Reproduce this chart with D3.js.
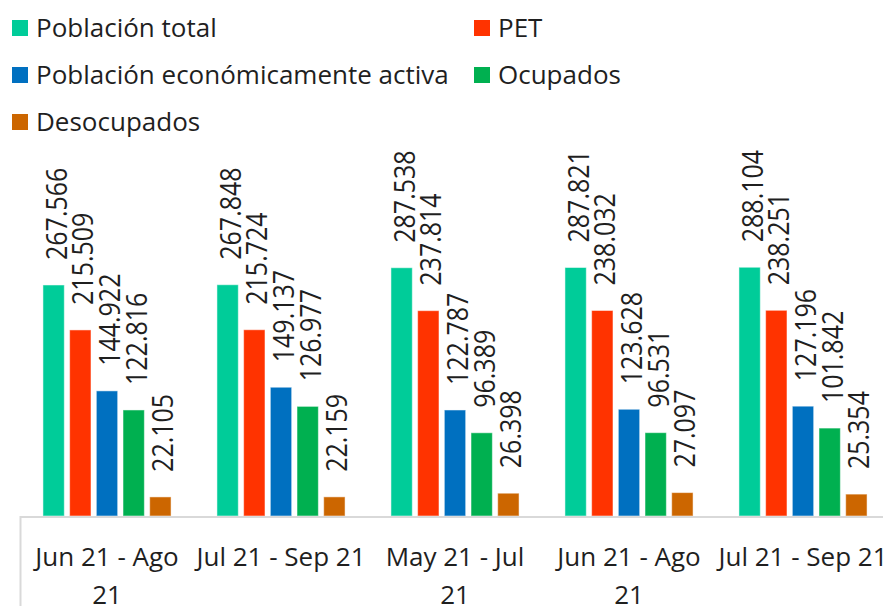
<!DOCTYPE html>
<html lang="es">
<head>
    <meta charset="UTF-8"/>
    <title>Población y mercado laboral</title>
    <script src="https://d3js.org/d3.v7.min.js"></script>
    <style>
        body { margin: 0; background: #fff; }
        text { font-family: "Open Sans", "Noto Sans", sans-serif; fill: #1f1f1f; }
    </style>
</head>
<body>
<div id="chart"></div>
<script>

    let width = 883;
    let height = 606;

    // categories (trimestres moviles)
    var categories = ["Jun 21 - Ago 21", "Jul 21 - Sep 21", "May 21 - Jul 21", "Jun 21 - Ago 21 ", "Jul 21 - Sep 21 "];

    var series = ["Población total", "PET", "Población económicamente activa", "Ocupados", "Desocupados"];
    var colors = ["#00CC99", "#FF3300", "#0070C0", "#00B050", "#CC6600"];

    // values, in thousands
    var poblacionTotal = [267.566, 267.848, 287.538, 287.821, 288.104];
    var pet = [215.509, 215.724, 237.814, 238.032, 238.251];
    var pea = [144.922, 149.137, 122.787, 123.628, 127.196];
    var ocupados = [122.816, 126.977, 96.389, 96.531, 101.842];
    var desocupados = [22.105, 22.159, 26.398, 27.097, 25.354];

    var allValues = [poblacionTotal, pet, pea, ocupados, desocupados];

    var baseY = 516;

    var x0 = d3.scaleBand().domain(categories).range([20, 890]).padding(0);
    var x1 = d3.scaleBand().domain(series).range([0, x0.bandwidth()])
        .paddingInner(0.2).paddingOuter(0.86);
    var yScale = d3.scaleLinear().domain([0, 350]).range([baseY, baseY - 350 * 0.8634]);

    var svg = d3.select("#chart").append("svg").attr("width", width).attr("height", height);

    // legend, two columns
    var legend = svg.append("g");
    series.forEach(function (s, i) {
        var col = i % 2, row = Math.floor(i / 2);
        var lx = col === 0 ? 12 : 474;
        var ly = 20 + row * 47;
        legend.append("rect").attr("x", lx).attr("y", ly).attr("width", 16).attr("height", 16)
            .attr("fill", colors[i]);
        legend.append("text").attr("x", lx + 24).attr("y", ly + 8).attr("dy", "0.36em")
            .style("font-size", "26px").text(s);
    });

    // build rows for bars
    var rows = [];
    categories.forEach(function (c, ci) {
        series.forEach(function (s, si) {
            rows.push({cat: c, ser: s, value: allValues[si][ci], color: colors[si]});
        });
    });

    var groups = svg.append("g");
    groups.selectAll("rect").data(rows).enter().append("rect")
        .attr("x", function (d) { return x0(d.cat) + x1(d.ser); })
        .attr("y", function (d) { return yScale(d.value); })
        .attr("width", x1.bandwidth())
        .attr("height", function (d) { return baseY - yScale(d.value); })
        .attr("fill", function (d) { return d.color; })
        .attr("stroke", "#ffffff").attr("stroke-opacity", 0.5).attr("stroke-width", 1);

    // rotated value labels (glyphs a bit wide, like the original)
    var fmt = d3.format(".3f");
    groups.selectAll("text").data(rows).enter().append("text")
        .attr("transform", function (d) {
            var cx = x0(d.cat) + x1(d.ser) + x1.bandwidth() / 2 + 13;
            return "translate(" + cx + "," + (yScale(d.value) - 25) + ") rotate(-90) scale(1,1.2)";
        })
        .style("font-size", "25px")
        .text(function (d) { return fmt(d.value); });

    // axis
    var xAxis = d3.axisBottom(x0).tickSize(0).tickFormat(function (d) { return d.trim(); });
    var ax = svg.append("g").attr("transform", "translate(0," + baseY + ")").call(xAxis);
    ax.select(".domain").attr("stroke", "#d9d9d9").attr("stroke-width", 2)
        .attr("d", "M20,1H890");
    ax.selectAll(".tick text").style("font-size", "26px").attr("y", 50).attr("dy", 0)
        .attr("fill", "#1f1f1f");
    svg.append("line").attr("x1", 20.5).attr("x2", 20.5).attr("y1", baseY).attr("y2", height)
        .attr("stroke", "#d9d9d9").attr("stroke-width", 2);

    // wrap labels wider than a band
    ax.selectAll(".tick text").each(function () {
        var t = d3.select(this);
        var words = t.text().split(" ");
        if (this.getComputedTextLength() <= x0.bandwidth()) return;
        var last = words.pop();
        t.text(null);
        t.append("tspan").attr("x", 0).attr("y", 50).text(words.join(" "));
        t.append("tspan").attr("x", 0).attr("y", 88).text(last);
    });

</script>
</body>
</html>
